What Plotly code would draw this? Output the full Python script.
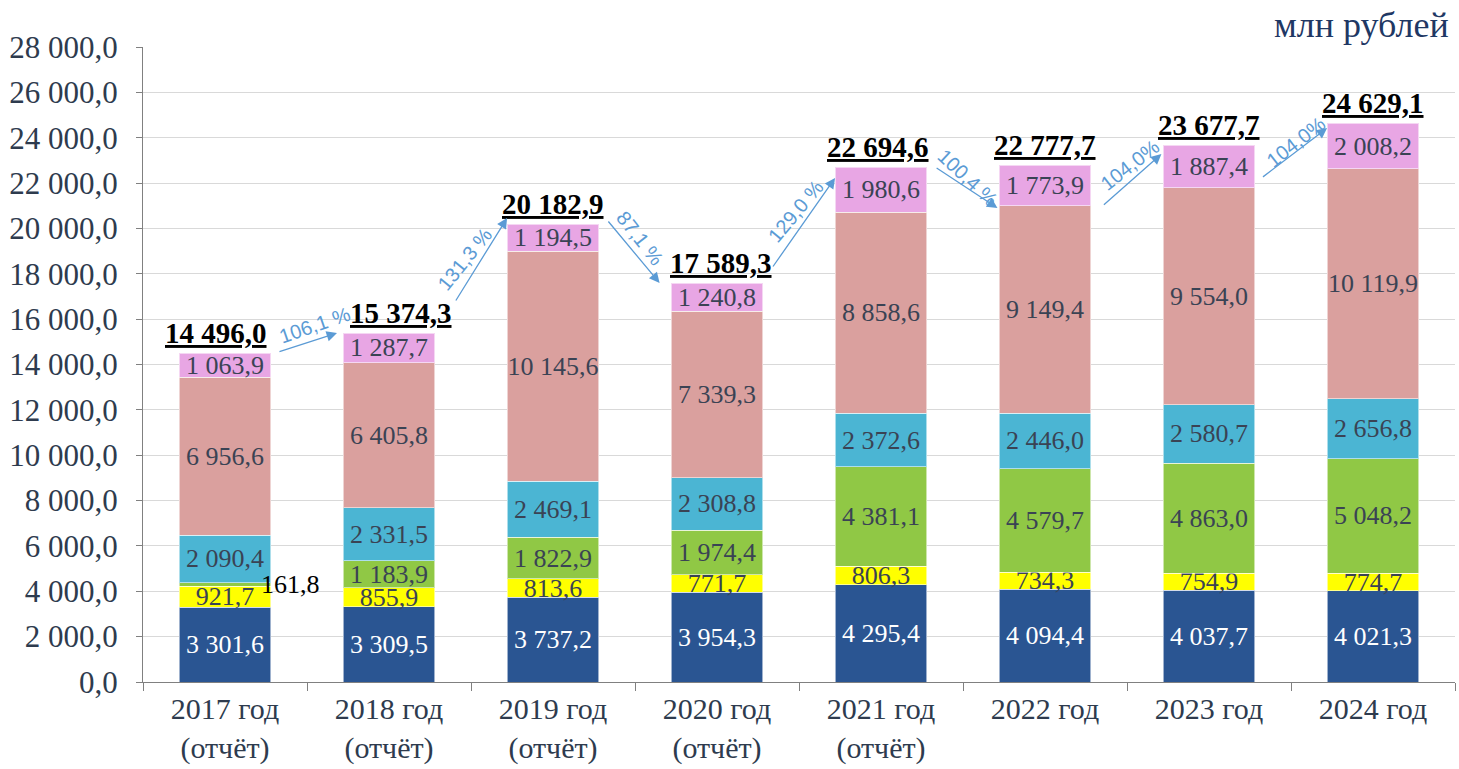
import plotly.graph_objects as go

categories = ["2017 год<br>(отчёт)", "2018 год<br>(отчёт)", "2019 год<br>(отчёт)",
              "2020 год<br>(отчёт)", "2021 год<br>(отчёт)", "2022 год", "2023 год", "2024 год"]

s_blue = [3301.6, 3309.5, 3737.2, 3954.3, 4295.4, 4094.4, 4037.7, 4021.3]
s_yellow = [921.7, 855.9, 813.6, 771.7, 806.3, 734.3, 754.9, 774.7]
s_green = [161.8, 1183.9, 1822.9, 1974.4, 4381.1, 4579.7, 4863.0, 5048.2]
s_cyan = [2090.4, 2331.5, 2469.1, 2308.8, 2372.6, 2446.0, 2580.7, 2656.8]
s_salmon = [6956.6, 6405.8, 10145.6, 7339.3, 8858.6, 9149.4, 9554.0, 10119.9]
s_pink = [1063.9, 1287.7, 1194.5, 1240.8, 1980.6, 1773.9, 1887.4, 2008.2]
totals = [14496.0, 15374.3, 20182.9, 17589.3, 22694.6, 22777.7, 23677.7, 24629.1]
growth = ["106,1 %", "131,3 %", "87,1 %", "129,0 %", "100,4 %", "104,0%", "104,0%"]

y_ticks = list(range(0, 28001, 2000))


def ru(v):
    return f"{v:,.1f}".replace(",", " ").replace(".", ",")


SERIF = "Liberation Serif"
LBL = "#3A4354"

series = [
    (s_blue, "#2A5592", "white"),
    (s_yellow, "#FFFF00", LBL),
    (s_green, "#90C845", LBL),
    (s_cyan, "#4BB5D3", LBL),
    (s_salmon, "#DAA09E", LBL),
    (s_pink, "#E8A6E4", LBL),
]

fig = go.Figure()
for vals, col, tcol in series:
    texts = [ru(v) if v > 300 else "" for v in vals]
    f = dict(family=SERIF, size=26, color=tcol)
    fig.add_trace(go.Bar(
        x=categories, y=vals, text=texts, textposition="inside",
        insidetextanchor="middle", textangle=0,
        textfont=f, insidetextfont=f,
        marker=dict(color=col, line=dict(color="rgba(255,255,255,0.55)", width=1)),
        hoverinfo="skip", showlegend=False,
    ))

ann = []
# totals
tot_xshift = [-9, 12, 0, 4, -3, 0, 0, 0]
for i, t in enumerate(totals):
    ann.append(dict(x=i, y=t, xref="x", yref="y", text=f"<b><u>{ru(t)}</u></b>",
                    showarrow=False, yanchor="bottom", yshift=2, xshift=tot_xshift[i],
                    font=dict(family=SERIF, size=29, color="black")))

# small outside label for 2017 green
ann.append(dict(x=0.4, y=s_blue[0] + s_yellow[0] + s_green[0] / 2, xref="x", yref="y",
                text=ru(s_green[0]), showarrow=False,
                font=dict(family=SERIF, size=26, color="black")))

# growth arrows (tail -> head) and rotated labels
arrow_tail = [(0.323, 14551), (1.402, 16756), (2.33, 20371), (3.335, 18255),
              (4.33, 22708), (5.35, 20989), (6.32, 22223)]
arrow_head = [(0.683, 15389), (1.72, 20460), (2.65, 17593), (3.72, 22223),
              (4.71, 20900), (5.71, 23282), (6.72, 24428)]
lbl_pos = [(0.549, 15742), (1.463, 18652), (2.53, 19578), (3.482, 20768),
           (4.53, 22223), (5.518, 22797), (6.53, 23811)]
lbl_ang = [-19, -51, 52, -50, 43, -38, -38]
ACOL = "#5B9BD5"
for k in range(len(growth)):
    (tx, ty), (hx, hy) = arrow_tail[k], arrow_head[k]
    ann.append(dict(x=hx, y=hy, ax=tx, ay=ty, xref="x", yref="y", axref="x", ayref="y",
                    text="", showarrow=True, arrowhead=2, arrowsize=1.6, arrowwidth=1.3,
                    arrowcolor=ACOL, standoff=0, startstandoff=0))
    lx, ly = lbl_pos[k]
    ann.append(dict(x=lx, y=ly, xref="x", yref="y", text=growth[k], showarrow=False,
                    textangle=lbl_ang[k],
                    font=dict(family="Liberation Sans", size=20, color=ACOL)))

ann.append(dict(x=1.0, y=1.0, xref="paper", yref="paper", xanchor="right", yanchor="bottom",
                yshift=0, xshift=-4, text="млн рублей", showarrow=False,
                font=dict(family=SERIF, size=36, color="#1F3864")))

fig.update_layout(
    barmode="stack", bargap=0.44,
    width=1459, height=769,
    margin=dict(l=143, r=4, t=47, b=87, autoexpand=False),
    paper_bgcolor="white", plot_bgcolor="white",
    separators=", ",
    annotations=ann,
    xaxis=dict(showline=True, linecolor="#808080", linewidth=1.3, automargin=False,
               ticks="outside", ticklen=8, tickcolor="#808080", tickson="boundaries",
               tickfont=dict(family=SERIF, size=30, color="#2E3B4E"),
               range=[-0.5, 7.5]),
    yaxis=dict(range=[0, 28000], tickvals=y_ticks, tickformat=",.1f", automargin=False,
               showline=True, linecolor="#808080", linewidth=1.3,
               ticks="outside", ticklen=6, tickcolor="#808080", ticklabelstandoff=12,
               showgrid=True, gridcolor="#D9D9D9", gridwidth=1,
               tickfont=dict(family=SERIF, size=31, color="#2E3B4E")),
    uniformtext=dict(minsize=26, mode="show"),
)

fig.write_html("out.html", config={"displayModeBar": False},
               post_script="document.body.style.margin='0';document.body.style.overflow='hidden';")
